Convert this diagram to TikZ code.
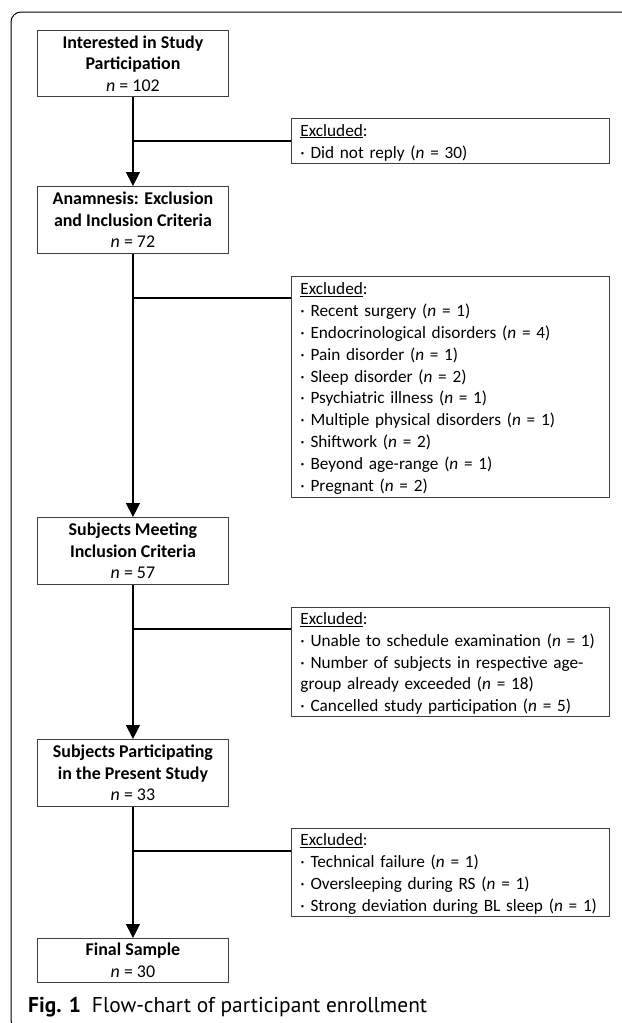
\documentclass[tikz,border=0pt]{standalone}
\usepackage{fontspec}
\setmainfont{Carlito}
\newfontfamily\capfont{PT Sans}
\usetikzlibrary{arrows.meta,calc}
\begin{document}
\begin{tikzpicture}[x=1bp,y=-1bp,
  mainbox/.style={draw=black!75, line width=0.9bp, minimum width=191bp, inner sep=0pt, align=center, font=\fontsize{18}{21.5}\selectfont, anchor=north west},
  exclbox/.style={draw=black!75, line width=0.9bp, text width=300bp, inner xsep=9bp, inner ysep=0pt, align=left, font=\fontsize{17.3}{22}\selectfont, anchor=north west},
  flow/.style={line width=1.1bp, -{Triangle[width=14bp,length=14bp]}},
  branch/.style={line width=1.1bp}]
\useasboundingbox (0,0) rectangle (622,1023);
\begin{scope}
\clip (0,0) rectangle (622,1023);
\draw[rounded corners=10bp, line width=1bp] (11,12) rectangle (700,1030);
\end{scope}
% main boxes
\node[mainbox, minimum height=66bp] (b1) at (37,30) {\textbf{Interested in Study}\\\textbf{Participation}\\\textit{n} = 102};
\node[mainbox, minimum height=67bp] (b2) at (37,186) {\textbf{Anamnesis: Exclusion}\\\textbf{and Inclusion Criteria}\\\textit{n} = 72};
\node[mainbox, minimum height=67bp] (b3) at (37,517) {\textbf{Subjects Meeting}\\\textbf{Inclusion Criteria}\\\textit{n} = 57};
\node[mainbox, minimum height=67bp] (b4) at (37,739) {\textbf{Subjects Participating}\\\textbf{in the Present Study}\\\textit{n} = 33};
\node[mainbox, minimum height=44bp] (b5) at (37,938) {\textbf{Final Sample}\\\textit{n} = 30};
% exclusion boxes
\node[exclbox, minimum height=45bp] (e1) at (291,118) {\rule{0pt}{15bp}\underline{Excluded}:\\· Did not reply (\textit{n} = 30)};
\node[exclbox, minimum height=221bp] (e2) at (291,276) {\rule{0pt}{15bp}\underline{Excluded}:\\
· Recent surgery (\textit{n} = 1)\\
· Endocrinological disorders (\textit{n} = 4)\\
· Pain disorder (\textit{n} = 1)\\
· Sleep disorder (\textit{n} = 2)\\
· Psychiatric illness (\textit{n} = 1)\\
· Multiple physical disorders (\textit{n} = 1)\\
· Shiftwork (\textit{n} = 2)\\
· Beyond age-range (\textit{n} = 1)\\
· Pregnant (\textit{n} = 2)};
\node[exclbox, minimum height=109bp] (e3) at (291,607) {\rule{0pt}{15bp}\underline{Excluded}:\\
· Unable to schedule examination (\textit{n} = 1)\\
· Number of subjects in respective age-\\
group already exceeded (\textit{n} = 18)\\
· Cancelled study participation (\textit{n} = 5)};
\node[exclbox, minimum height=88bp] (e4) at (291,828) {\rule{0pt}{15bp}\underline{Excluded}:\\
· Technical failure (\textit{n} = 1)\\
· Oversleeping during RS (\textit{n} = 1)\\
· Strong deviation during BL sleep (\textit{n} = 1)};
% flow arrows
\draw[flow] (b1.south) -- (b2.north);
\draw[flow] (b2.south) -- (b3.north);
\draw[flow] (b3.south) -- (b4.north);
\draw[flow] (b4.south) -- (b5.north);
% branches
\coordinate (j1) at (132.5,141);
\coordinate (j2) at (132.5,298);
\coordinate (j3) at (132.5,629);
\coordinate (j4) at (132.5,851);
\draw[branch] (j1) -- (j1 -| e1.west);
\draw[branch] (j2) -- (j2 -| e2.west);
\draw[branch] (j3) -- (j3 -| e3.west);
\draw[branch] (j4) -- (j4 -| e4.west);
% caption
\node[anchor=base west, inner sep=0pt, font=\capfont\fontsize{21.5}{26}\selectfont] (cap) at (28,1012) {\textbf{Fig. 1}\hspace{11bp}Flow-chart of participant enrollment};
\end{tikzpicture}
\end{document}
